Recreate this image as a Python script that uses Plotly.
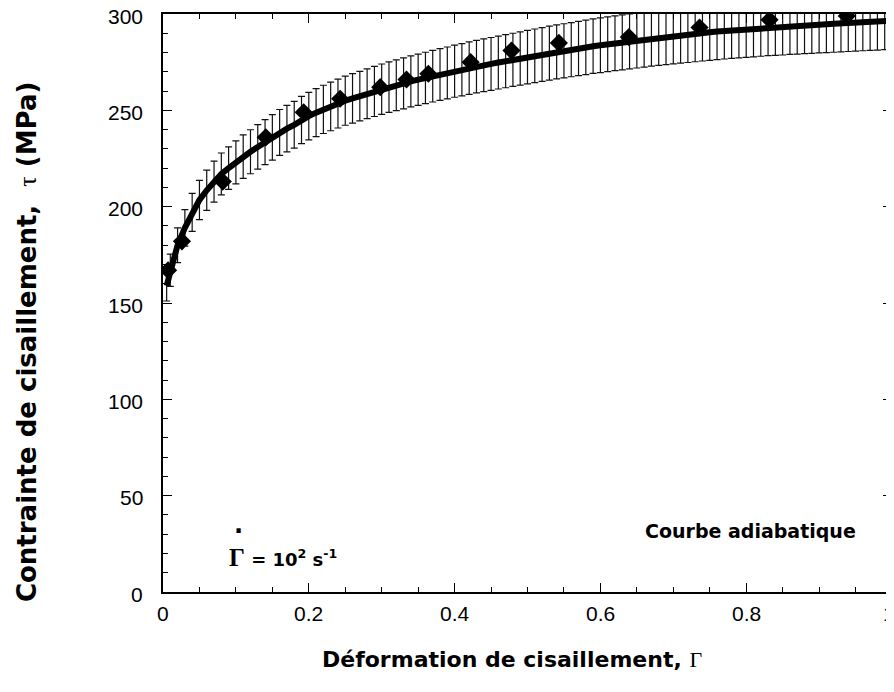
import plotly.graph_objects as go

# Experimental points (diamonds)
strain_pts = [0.007, 0.026, 0.082, 0.141, 0.193, 0.243, 0.298, 0.334, 0.364, 0.422,
              0.478, 0.543, 0.639, 0.736, 0.832, 0.938]
stress_pts = [167, 182, 213, 236, 249, 256, 262, 266, 269, 275,
              281, 285, 288, 293, 297, 299]

# Adiabatic model curve
strain_curve = [0.005, 0.01, 0.02, 0.03, 0.04, 0.05, 0.06, 0.07, 0.08, 0.09, 0.10,
                0.11, 0.12, 0.13, 0.14, 0.15, 0.16, 0.17, 0.18, 0.19, 0.20,
                0.21, 0.22, 0.23, 0.24, 0.25, 0.26, 0.27, 0.28, 0.29, 0.30,
                0.31, 0.32, 0.33, 0.34, 0.35, 0.36, 0.37, 0.38, 0.39, 0.40,
                0.41, 0.42, 0.43, 0.44, 0.45, 0.46, 0.47, 0.48, 0.49, 0.50,
                0.51, 0.52, 0.53, 0.54, 0.55, 0.56, 0.57, 0.58, 0.59, 0.60,
                0.61, 0.62, 0.63, 0.64, 0.65, 0.66, 0.67, 0.68, 0.69, 0.70,
                0.71, 0.72, 0.73, 0.74, 0.75, 0.76, 0.77, 0.78, 0.79, 0.80,
                0.81, 0.82, 0.83, 0.84, 0.85, 0.86, 0.87, 0.88, 0.89, 0.90,
                0.91, 0.92, 0.93, 0.94, 0.95, 0.96, 0.97, 0.98, 0.99, 1.00]
stress_curve = [159, 167, 180, 189, 197, 203.5, 208.5, 213, 217, 220, 223,
                226, 228.5, 231, 233.5, 236, 238.5, 240.5, 242.5, 245, 247,
                248.8, 250.5, 252, 253.5, 255, 256.2, 257.4, 258.6, 259.8, 261,
                262, 263, 264, 265, 265.9, 266.8, 267.7, 268.6, 269.4, 270.3,
                271.1, 271.9, 272.7, 273.4, 274.1, 274.8, 275.5, 276.2, 276.9, 277.6,
                278.3, 279.0, 279.7, 280.3, 280.9, 281.5, 282.1, 282.7, 283.3, 283.8,
                284.3, 284.8, 285.3, 285.8, 286.3, 286.8, 287.3, 287.7, 288.1, 288.5,
                288.9, 289.3, 289.7, 290.1, 290.5, 290.9, 291.2, 291.5, 291.8, 292.1,
                292.4, 292.7, 293.0, 293.2, 293.4, 293.7, 293.9, 294.1, 294.3, 294.5,
                294.7, 294.9, 295.1, 295.3, 295.5, 295.7, 295.9, 296.1, 296.3, 296.5]
error_percent = 5

x_ticks = [0, 0.2, 0.4, 0.6, 0.8, 1]
x_labels = ["0", "0.2", "0.4", "0.6", "0.8", "1"]
y_ticks = [0, 50, 100, 150, 200, 250, 300]
y_labels = ["0", "50", "100", "150", "200", "250", "300"]

SANS = "Liberation Sans, Arial, Helvetica, sans-serif"
BOLD = "DejaVu Sans, Liberation Sans, sans-serif"
SERIF_SPAN = "<span style=\"font-family:'Liberation Serif','Times New Roman',serif\">{}</span>"

fig = go.Figure()

# error bars along the curve (invisible markers)
fig.add_trace(go.Scatter(
    x=strain_curve, y=stress_curve, mode="markers",
    marker=dict(size=1, color="rgba(0,0,0,0)"),
    error_y=dict(type="percent", value=error_percent, color="#111111",
                 thickness=1.2, width=3.5),
    showlegend=False, hoverinfo="skip"))

# thick curve
fig.add_trace(go.Scatter(
    x=strain_curve, y=stress_curve, mode="lines",
    line=dict(color="black", width=6), showlegend=False))

# experimental diamonds
fig.add_trace(go.Scatter(
    x=strain_pts, y=stress_pts, mode="markers",
    marker=dict(symbol="diamond", size=14, color="black"),
    showlegend=False))

axis_common = dict(showline=True, linecolor="black", linewidth=1.5, mirror="allticks",
                   ticks="inside", tickcolor="black", ticklen=9, tickwidth=1.2,
                   showgrid=False, zeroline=False, showticklabels=False, automargin=False)

fig.update_xaxes(range=[0, 1], tickvals=x_ticks,
                 minor=dict(dtick=0.05, ticks="inside", ticklen=5, tickcolor="black", tickwidth=1),
                 **axis_common)
fig.update_yaxes(range=[0, 300], tickvals=y_ticks,
                 minor=dict(dtick=10, ticks="inside", ticklen=5, tickcolor="black", tickwidth=1),
                 **axis_common)

# tick labels placed on the axes' scales
tick_font = dict(family=SANS, size=21, color="black")
for xv, lab in zip(x_ticks, x_labels):
    fig.add_annotation(x=xv, y=0, xref="x", yref="y", xanchor="center", yanchor="top",
                       yshift=-8, xshift=(-3 if xv == 1 else 0),
                       text=lab, showarrow=False, font=tick_font)
for yv, lab in zip(y_ticks, y_labels):
    fig.add_annotation(x=0, y=yv, xref="x", yref="y", xanchor="right", yanchor="middle",
                       xshift=-18, yshift=-2, text=lab, showarrow=False, font=tick_font)

# axis titles
fig.add_annotation(x=0.479, y=-0.1176, xref="paper", yref="paper",
                   xanchor="center", yanchor="middle", showarrow=False,
                   text="<b>Déformation de cisaillement, </b>" + SERIF_SPAN.format("Γ"),
                   font=dict(family=BOLD, size=22, color="black"))
fig.add_annotation(x=-0.1866, y=0.434, xref="paper", yref="paper", textangle=-90,
                   xanchor="center", yanchor="middle", showarrow=False,
                   text="<b>Contrainte de cisaillement,  </b>" + SERIF_SPAN.format("τ") + "<b> (MPa)</b>",
                   font=dict(family=BOLD, size=26, color="black"))

# in-plot labels
fig.add_annotation(x=0.088, y=18, xref="x", yref="y", xanchor="left", yanchor="middle",
                   text="<b><span style=\"font-family:'Liberation Serif',serif;font-size:25px\">Γ</span>"
                        " = 10<sup>2</sup> s<sup>-1</sup></b>",
                   showarrow=False, font=dict(family=BOLD, size=18, color="black"))
fig.add_annotation(x=0.104, y=31.5, xref="x", yref="y", xanchor="center", yanchor="middle",
                   text="<b>·</b>", showarrow=False,
                   font=dict(family=BOLD, size=24, color="black"))
fig.add_annotation(x=0.953, y=31.5, xref="x", yref="y", xanchor="right", yanchor="middle",
                   text="<b>Courbe adiabatique</b>",
                   showarrow=False, font=dict(family=BOLD, size=19, color="black"))

fig.update_layout(width=886, height=684, plot_bgcolor="white", paper_bgcolor="white",
                  margin=dict(l=155, r=2, t=6, b=100), showlegend=False)

fig.write_html("out.html")
